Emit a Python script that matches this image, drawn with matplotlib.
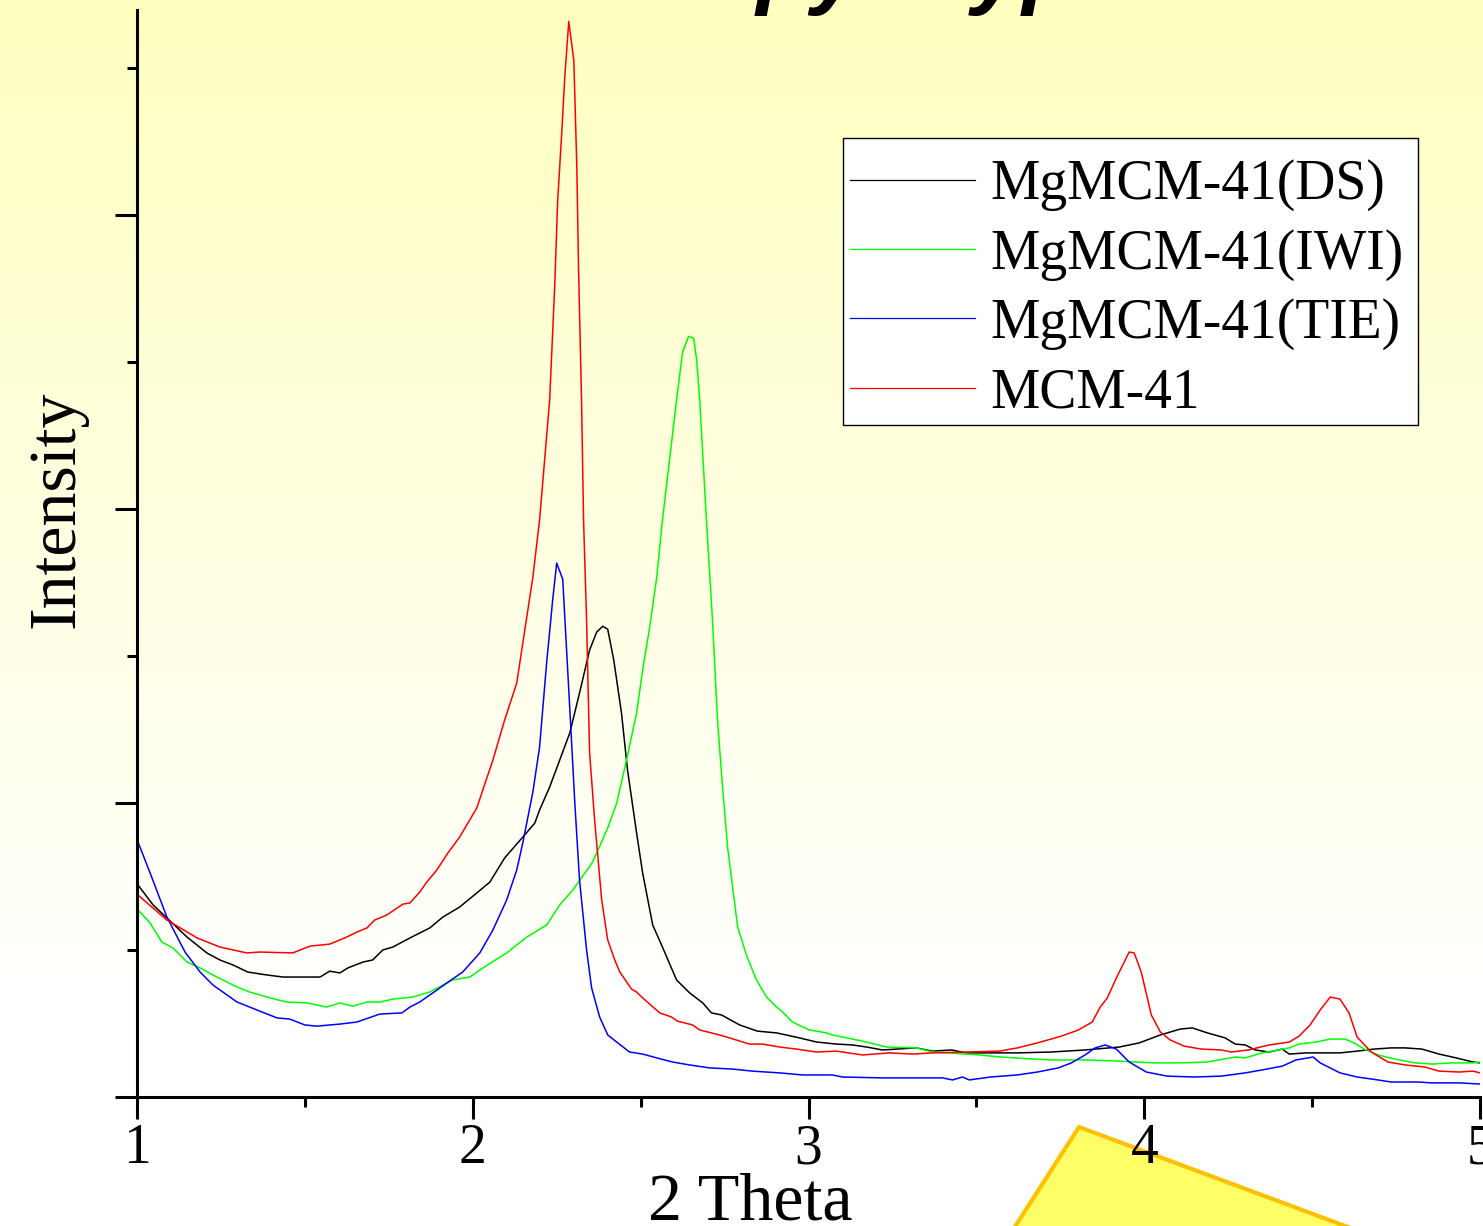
import numpy as np
import matplotlib
matplotlib.use("Agg")
import matplotlib.pyplot as plt
from matplotlib.patches import Polygon, Rectangle

plt.rcParams['font.family'] = ['Liberation Serif', 'DejaVu Serif']

# 2 Theta (deg) / intensity (a.u.)
ds_x = [1.003, 1.048, 1.089, 1.149, 1.208, 1.247, 1.286, 1.330, 1.387, 1.435, 1.485, 1.545,
        1.574, 1.604, 1.628, 1.673, 1.702, 1.732, 1.762, 1.813, 1.872, 1.911, 1.961, 2.012,
        2.051, 2.095, 2.149, 2.185, 2.199, 2.229, 2.259, 2.289, 2.318, 2.348, 2.369, 2.387,
        2.402, 2.420, 2.443, 2.461, 2.488, 2.506, 2.536, 2.565, 2.607, 2.646, 2.685, 2.711,
        2.741, 2.795, 2.848, 2.905, 2.973, 3.024, 3.083, 3.131, 3.173, 3.220, 3.321, 3.369,
        3.426, 3.470, 3.571, 3.622, 3.723, 3.824, 3.926, 3.985, 4.048, 4.107, 4.143, 4.188,
        4.241, 4.271, 4.301, 4.330, 4.372, 4.411, 4.432, 4.482, 4.533, 4.583, 4.634, 4.685,
        4.735, 4.777, 4.827, 4.878, 4.929, 4.979, 5.0]
ds_y = [721, 653, 609, 544, 490, 466, 449, 425, 415, 408, 408, 408,
        428, 422, 439, 459, 466, 500, 510, 541, 575, 612, 646, 694,
        731, 813, 884, 932, 976, 1054, 1146, 1238, 1374, 1520, 1581, 1601,
        1591, 1486, 1306, 1112, 898, 762, 585, 510, 398, 354, 320, 286,
        279, 245, 224, 218, 201, 187, 180, 177, 170, 160, 167, 156,
        160, 150, 150, 150, 153, 160, 170, 184, 211, 231, 235, 218,
        201, 180, 177, 160, 153, 163, 146, 150, 150, 150, 156, 163,
        167, 167, 163, 146, 133, 119, 116]

iwi_x = [1.003, 1.039, 1.074, 1.107, 1.149, 1.188, 1.226, 1.268, 1.298, 1.336, 1.396, 1.446,
         1.506, 1.565, 1.604, 1.643, 1.685, 1.723, 1.762, 1.821, 1.872, 1.940, 1.991, 2.030,
         2.101, 2.161, 2.220, 2.259, 2.298, 2.357, 2.402, 2.429, 2.458, 2.488, 2.506, 2.527,
         2.548, 2.565, 2.607, 2.625, 2.643, 2.658, 2.667, 2.676, 2.696, 2.714, 2.729, 2.744,
         2.759, 2.789, 2.815, 2.845, 2.875, 2.905, 2.923, 2.952, 3.003, 3.054, 3.071, 3.131,
         3.173, 3.232, 3.321, 3.369, 3.470, 3.509, 3.571, 3.673, 3.723, 3.824, 3.926, 4.027,
         4.107, 4.188, 4.271, 4.301, 4.351, 4.432, 4.461, 4.512, 4.554, 4.598, 4.625, 4.655,
         4.696, 4.747, 4.807, 4.857, 4.917, 4.979, 5.0]
iwi_y = [636, 592, 527, 507, 459, 439, 415, 391, 374, 357, 337, 323,
         320, 306, 320, 309, 323, 323, 333, 340, 357, 398, 408, 439,
         490, 544, 585, 653, 704, 799, 915, 1000, 1146, 1306, 1452, 1598,
         1768, 1962, 2370, 2533, 2587, 2581, 2506, 2370, 1962, 1622, 1282, 1054,
         850, 578, 483, 398, 340, 306, 289, 255, 228, 218, 211, 197,
         187, 170, 167, 153, 146, 143, 136, 129, 126, 126, 122, 116,
         116, 119, 136, 133, 150, 167, 180, 187, 197, 197, 184, 163,
         143, 129, 116, 112, 116, 116, 119]

tie_x = [1.003, 1.039, 1.089, 1.143, 1.188, 1.226, 1.298, 1.366, 1.417, 1.455, 1.500, 1.536,
         1.604, 1.655, 1.723, 1.789, 1.813, 1.842, 1.881, 1.923, 1.970, 2.021, 2.060, 2.101,
         2.131, 2.149, 2.179, 2.199, 2.220, 2.238, 2.250, 2.268, 2.280, 2.292, 2.304, 2.318,
         2.324, 2.339, 2.354, 2.378, 2.402, 2.432, 2.467, 2.506, 2.548, 2.595, 2.646, 2.705,
         2.774, 2.833, 2.914, 2.982, 3.071, 3.101, 3.220, 3.321, 3.399, 3.429, 3.458, 3.479,
         3.542, 3.622, 3.682, 3.744, 3.783, 3.824, 3.854, 3.884, 3.917, 3.955, 4.006, 4.068,
         4.149, 4.229, 4.301, 4.351, 4.411, 4.452, 4.503, 4.524, 4.583, 4.634, 4.696, 4.735,
         4.815, 4.857, 4.938, 5.0]
tie_y = [867, 762, 612, 493, 425, 381, 323, 292, 269, 265, 245, 241,
         248, 255, 282, 286, 306, 323, 354, 388, 425, 490, 568, 670,
         772, 864, 1037, 1190, 1476, 1690, 1816, 1761, 1510, 1258, 1000, 738,
         670, 500, 371, 272, 211, 184, 153, 146, 133, 119, 109, 99,
         95, 88, 82, 75, 75, 68, 65, 65, 65, 58, 68, 58,
         68, 75, 85, 99, 116, 143, 167, 177, 163, 119, 85, 71,
         68, 71, 82, 92, 105, 126, 136, 116, 82, 68, 58, 51,
         51, 48, 48, 44]

mcm_x = [1.003, 1.089, 1.179, 1.247, 1.327, 1.366, 1.464, 1.515, 1.574, 1.625, 1.655, 1.685,
         1.708, 1.744, 1.792, 1.813, 1.842, 1.863, 1.893, 1.926, 1.961, 2.012, 2.060, 2.095,
         2.131, 2.155, 2.179, 2.199, 2.229, 2.244, 2.253, 2.265, 2.274, 2.286, 2.301, 2.310,
         2.315, 2.324, 2.330, 2.339, 2.348, 2.363, 2.384, 2.402, 2.423, 2.438, 2.473, 2.488,
         2.506, 2.557, 2.592, 2.610, 2.655, 2.676, 2.735, 2.765, 2.824, 2.863, 2.914, 2.964,
         3.024, 3.083, 3.161, 3.241, 3.310, 3.369, 3.470, 3.568, 3.622, 3.682, 3.753, 3.804,
         3.845, 3.869, 3.890, 3.917, 3.955, 3.970, 3.991, 4.021, 4.048, 4.077, 4.119, 4.170,
         4.229, 4.259, 4.310, 4.372, 4.432, 4.461, 4.494, 4.524, 4.554, 4.583, 4.610, 4.634,
         4.676, 4.726, 4.777, 4.836, 4.878, 4.938, 4.979, 5.0]
mcm_y = [687, 602, 541, 510, 490, 493, 490, 513, 520, 544, 561, 575,
         602, 619, 656, 660, 697, 731, 772, 830, 884, 983, 1146, 1282,
         1408, 1588, 1768, 1962, 2370, 2754, 3050, 3278, 3468, 3658, 3526, 3162,
         2822, 2370, 1962, 1622, 1170, 942, 670, 534, 466, 425, 367, 357,
         337, 286, 272, 258, 245, 228, 211, 201, 180, 180, 170, 163,
         153, 156, 143, 150, 146, 150, 153, 156, 167, 184, 207, 228,
         255, 306, 337, 405, 493, 490, 425, 279, 221, 194, 173, 163,
         160, 153, 160, 177, 187, 207, 245, 296, 340, 333, 286, 204,
         153, 119, 109, 102, 88, 85, 88, 82]

series = [
    ('MgMCM-41(DS)', ds_x, ds_y, '#000000'),
    ('MgMCM-41(IWI)', iwi_x, iwi_y, '#00ff00'),
    ('MgMCM-41(TIE)', tie_x, tie_y, '#0000ff'),
    ('MCM-41', mcm_x, mcm_y, '#ff0000'),
]

W, H = 1483, 1226
fig = plt.figure(figsize=(W / 100, H / 100), dpi=100)

# yellow-to-white slide background
bg = fig.add_axes([0, 0, 1, 1], zorder=0)
rows = np.linspace(0, 1, 300)
blue = np.clip(192 + 63 * rows / 0.82, 192, 255) / 255.0
grad = np.zeros((300, 1, 3))
grad[:, 0, 0] = 1.0
grad[:, 0, 1] = 1.0
grad[:, 0, 2] = blue
bg.imshow(grad, aspect='auto', extent=[0, 1, 0, 1], origin='upper')
bg.set_axis_off()

# decoration shape in the lower right of the slide
shape = Polygon([(1079 / W, 1 - 1127 / H), (976 / W, -0.05), (1510 / W, -0.05)],
                closed=True, transform=fig.transFigure, facecolor='#ffff66',
                edgecolor='#ffc000', linewidth=3, zorder=1)
fig.patches.append(shape)

# slide title, only its lowest strokes fall inside the picture
fig.text(290 / W, 1 + 3 / H, 'XRD Isotropy - type Ordered', fontsize=65, fontweight='bold',
         fontstyle='italic', family=['Liberation Sans', 'DejaVu Sans'],
         va='baseline', ha='left', color='black', zorder=3)

ax = fig.add_axes([137 / W, 1 - 1097 / H, (1480 - 137) / W, (1097 - 10) / H], zorder=2)
ax.patch.set_alpha(0)

for name, xs, ys, col in series:
    ax.plot(xs, ys, color=col, linewidth=1.1, label=name)

ax.set_xlim(1, 5)
ax.set_ylim(0, 3697)
ax.set_xticks([1, 2, 3, 4, 5])
ax.set_xticks([1.5, 2.5, 3.5, 4.5], minor=True)
ax.set_yticks([0, 1000, 2000, 3000])
ax.set_yticks([500, 1500, 2500, 3500], minor=True)
ax.set_yticklabels([])
ax.set_xticklabels(['1', '2', '3', '4', '5'])

for side in ['top', 'right']:
    ax.spines[side].set_visible(False)
for side in ['left', 'bottom']:
    ax.spines[side].set_linewidth(2.2)

ax.tick_params(which='major', direction='out', length=16, width=2.2, labelsize=40, pad=3)
ax.tick_params(which='minor', direction='out', length=7, width=2.2)

ax.set_xlabel('2 Theta', fontsize=49, va='baseline')
ax.xaxis.set_label_coords((750 - 137) / 1343, (1097 - 1220) / 1087)
ax.set_ylabel('Intensity', fontsize=49)
ax.yaxis.set_label_coords((88 - 137) / 1343, (1097 - 509) / 1087)

# legend box drawn separately so the padding can match
box = Rectangle((843 / W, 1 - 425 / H), (1418 - 843) / W, (425 - 138) / H,
                transform=fig.transFigure, facecolor='white', edgecolor='black',
                linewidth=1.0, zorder=4)
ax.add_artist(box)

leg = ax.legend(loc='upper left', bbox_to_anchor=(850 / W, 1 - 159 / H),
                bbox_transform=fig.transFigure, fontsize=40, frameon=False,
                borderpad=0, handlelength=2.25, handletextpad=0.27,
                labelspacing=0.31, borderaxespad=0)
leg.set_zorder(5)
for line in leg.get_lines():
    line.set_linewidth(0.9)

fig.savefig('out.png', dpi=100)
